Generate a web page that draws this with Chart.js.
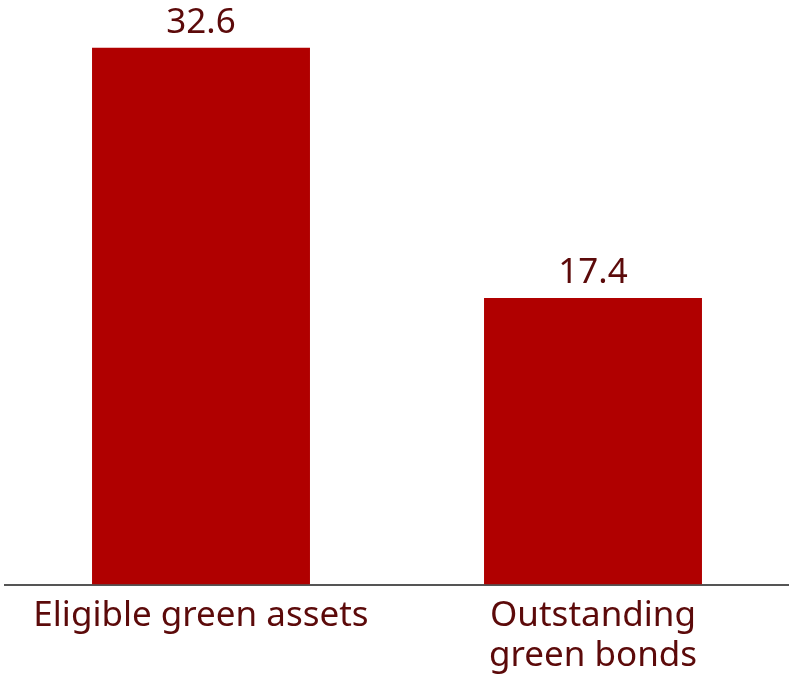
<!DOCTYPE html>
<html>
<head>
<meta charset="utf-8">
<script src="https://cdn.jsdelivr.net/npm/chart.js@4"></script>
<style>
  html, body { margin: 0; padding: 0; background: #fff; }
  #wrap { width: 789px; height: 675px; }
</style>
</head>
<body>
<div id="wrap"><canvas id="chart" width="789" height="675"></canvas></div>
<script>
// 数据
const categories = [['Eligible green assets'], ['Outstanding', 'green bonds']];
const values = [32.6, 17.4];

const barColor = '#b00000';
const textColor = '#5c0a0a';
const fontFamily = '"Noto Sans", "Open Sans", sans-serif';

// 柱顶数值标签
const valueLabels = {
    id: 'valueLabels',
    afterDatasetsDraw(chart) {
        const ctx = chart.ctx;
        const meta = chart.getDatasetMeta(0);
        ctx.save();
        ctx.fillStyle = textColor;
        ctx.font = '35px ' + fontFamily;
        ctx.textAlign = 'center';
        ctx.textBaseline = 'alphabetic';
        meta.data.forEach((bar, i) => {
            ctx.fillText(values[i].toFixed(1), bar.x, bar.y - 15);
        });
        ctx.restore();
    }
};

new Chart(document.getElementById('chart'), {
    type: 'bar',
    data: {
        labels: categories,
        datasets: [{
            data: values,
            backgroundColor: barColor,
            categoryPercentage: 1,
            barPercentage: 0.556
        }]
    },
    options: {
        responsive: false,
        animation: false,
        layout: { padding: { left: 5, right: 0, top: 0, bottom: 0 } },
        plugins: { legend: { display: false }, tooltip: { enabled: false } },
        scales: {
            x: {
                grid: { display: false, drawTicks: false },
                border: { display: true, color: '#555', width: 2 },
                ticks: {
                    color: textColor,
                    font: { family: fontFamily, size: 35, lineHeight: 1.15 },
                    padding: 11,
                    maxRotation: 0,
                    autoSkip: false
                },
                // 压缩轴高度，让轴线落在 584 附近
                afterFit(scale) {
                    scale.height -= 12;
                }
            },
            y: {
                display: false,
                min: 0,
                max: 35.5
            }
        }
    },
    plugins: [valueLabels]
});
</script>
</body>
</html>
